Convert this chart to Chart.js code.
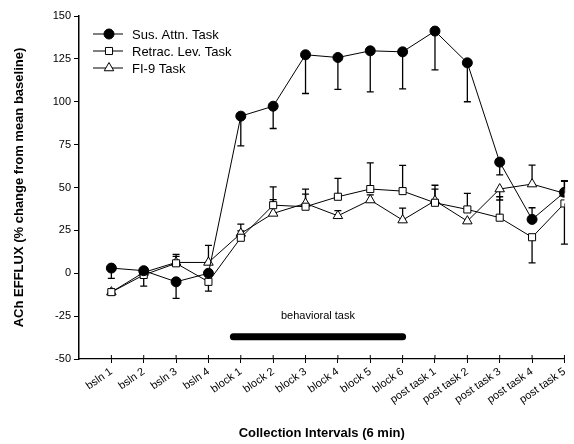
<!DOCTYPE html>
<html>
<head>
<meta charset="utf-8">
<script src="https://cdn.jsdelivr.net/npm/chart.js@4"></script>
<style>
  html, body { margin: 0; padding: 0; background: #fff; }
  #wrap { width: 574px; height: 444px; }
</style>
</head>
<body>
<div id="wrap"><canvas id="chart" width="574" height="444"></canvas></div>
<script>
// ── Data ────────────────────────────────────────────────────────
const categories = ['bsln 1', 'bsln 2', 'bsln 3', 'bsln 4', 'block 1', 'block 2', 'block 3',
                    'block 4', 'block 5', 'block 6', 'post task 1', 'post task 2',
                    'post task 3', 'post task 4', 'post task 5'];

const susAttn    = [3, 1.5, -5, 0, 91.6, 97.4, 127.4, 125.8, 129.7, 129.1, 141.2, 122.7, 64.8, 31.4, 47.2];
const susAttnErr = [-6, 0, -9.7, 0, -17.3, -13, -22.6, -18.6, -24, -21.6, -22.6, -22.7, -7.4, 6.8, 6.8];

const retrac     = [-11, -1, 5.8, -5, 20.7, 39.7, 38.8, 44.6, 49.1, 47.9, 41.1, 37.2, 32.4, 21, 40.7];
const retracErr  = [0, -6.5, 4, -5.4, 4, 10.7, 7.3, 10.7, 15.3, 15, 8, 9.4, 12.2, -15, -23.7];

const fi9        = [-11, 0.5, 6.3, 6.3, 23.2, 34.9, 40.7, 33.5, 42.7, 31, 42.3, 30.4, 49.1, 52, 46.6];
const fi9Err     = [0, 2.3, 4.7, 10, 5.5, 8, 8.4, 3, 3, 7, 9, 0, -6.4, 11, 7];

const yTicks     = [-50, -25, 0, 25, 50, 75, 100, 125, 150];
const taskSpan   = [4.77, 10];   // behavioral task bar, in category units
const taskLevel  = -37;
const taskLabel  = 'behavioral task';

const FONT = "'Liberation Sans', Arial, Helvetica, sans-serif";

const pts = arr => arr.map((v, i) => ({ x: i + 1, y: v }));

const series = [
    { label: 'Sus. Attn. Task',    data: susAttn, err: susAttnErr, style: 'circle',   bg: '#000', r: 5 },
    { label: 'Retrac. Lev. Task',  data: retrac,  err: retracErr,  style: 'rect',     bg: '#fff', r: 5 },
    { label: 'FI-9 Task',          data: fi9,     err: fi9Err,     style: 'triangle', bg: '#fff', r: 5.5 },
];

// ── Plugins ─────────────────────────────────────────────────────
const extras = {
    id: 'extras',
    beforeDatasetsDraw(chart) {
        const { ctx, scales: { x, y } } = chart;
        ctx.save();
        ctx.strokeStyle = '#000';
        ctx.lineWidth = 1.3;
        series.forEach(s => {
            s.err.forEach((e, i) => {
                if (!e) return;
                const px = x.getPixelForValue(i + 1);
                const y0 = y.getPixelForValue(s.data[i]);
                const y1 = y.getPixelForValue(s.data[i] + e);
                ctx.beginPath();
                ctx.moveTo(px, y0); ctx.lineTo(px, y1);
                ctx.moveTo(px - 3.5, y1); ctx.lineTo(px + 3.5, y1);
                ctx.stroke();
            });
        });
        // tick marks crossing up into the plot
        ctx.lineWidth = 1;
        categories.forEach((c, i) => {
            const px = x.getPixelForValue(i + 1);
            ctx.beginPath();
            ctx.moveTo(px, y.bottom); ctx.lineTo(px, y.bottom - 4);
            ctx.stroke();
        });
        ctx.restore();
    },
    afterDraw(chart) {
        const { ctx, chartArea, scales: { x, y } } = chart;
        ctx.save();
        // behavioral task label
        ctx.fillStyle = '#000';
        ctx.font = '11px ' + FONT;
        ctx.textAlign = 'center';
        ctx.textBaseline = 'middle';
        ctx.fillText(taskLabel, x.getPixelForValue((taskSpan[0] + taskSpan[1]) / 2), y.getPixelForValue(-25));

        // legend
        ctx.font = '13px ' + FONT;
        ctx.textAlign = 'left';
        series.forEach((s, i) => {
            const cy = chartArea.top + 18 + i * 17;
            const lx = chartArea.left + 14;
            ctx.strokeStyle = '#000';
            ctx.lineWidth = 1;
            ctx.beginPath();
            ctx.moveTo(lx, cy); ctx.lineTo(lx + 30, cy);
            ctx.stroke();
            ctx.fillStyle = s.bg;
            Chart.helpers.drawPoint(ctx, { pointStyle: s.style, radius: s.r, borderWidth: 1, rotation: 0 }, lx + 16, cy);
            ctx.fillStyle = '#000';
            ctx.fillText(s.label, lx + 39, cy + 1);
        });
        ctx.restore();
    }
};

// ── Chart ───────────────────────────────────────────────────────
const datasets = series.map(s => ({
    label: s.label,
    data: pts(s.data),
    borderColor: '#000',
    borderWidth: 1,
    backgroundColor: s.bg,
    pointStyle: s.style,
    pointRadius: s.r,
    pointBackgroundColor: s.bg,
    pointBorderColor: '#000',
    pointBorderWidth: 1,
    tension: 0
}));
datasets.push({
    label: taskLabel,
    data: taskSpan.map(v => ({ x: v, y: taskLevel })),
    borderColor: '#000',
    borderWidth: 7,
    borderCapStyle: 'round',
    pointRadius: 0
});

new Chart(document.getElementById('chart'), {
    type: 'line',
    data: { datasets },
    plugins: [extras],
    options: {
        responsive: false,
        animation: false,
        layout: { padding: { top: 16, right: 8, left: 0, bottom: 0 } },
        plugins: { legend: { display: false }, tooltip: { enabled: false } },
        scales: {
            x: {
                type: 'linear',
                min: 0,
                max: 15,
                afterBuildTicks: s => { s.ticks = categories.map((c, i) => ({ value: i + 1 })); },
                afterFit: s => { s.height = 85; },
                ticks: {
                    autoSkip: false,
                    maxRotation: 35,
                    minRotation: 35,
                    padding: 2,
                    color: '#000',
                    font: { family: FONT, size: 11 },
                    callback: v => categories[v - 1] ?? ''
                },
                grid: { drawOnChartArea: false, tickLength: 4, color: '#000' },
                border: { color: '#000', width: 1.2 },
                title: {
                    display: true,
                    text: 'Collection Intervals (6 min)',
                    color: '#000',
                    font: { family: FONT, size: 13, weight: 'bold' },
                    padding: { top: 0, bottom: 3 }
                }
            },
            y: {
                min: -50,
                max: 150,
                afterBuildTicks: s => { s.ticks = yTicks.map(v => ({ value: v })); },
                afterFit: s => { s.width = 79; },
                ticks: {
                    padding: 3,
                    color: '#000',
                    font: { family: FONT, size: 11 }
                },
                grid: { drawOnChartArea: false, tickLength: 5, color: '#000' },
                border: { color: '#000', width: 1.5 },
                title: {
                    display: true,
                    text: 'ACh EFFLUX (% change from mean baseline)',
                    color: '#000',
                    font: { family: FONT, size: 13, weight: 'bold' },
                    padding: { top: 12, bottom: 0 }
                }
            }
        }
    }
});
</script>
</body>
</html>
